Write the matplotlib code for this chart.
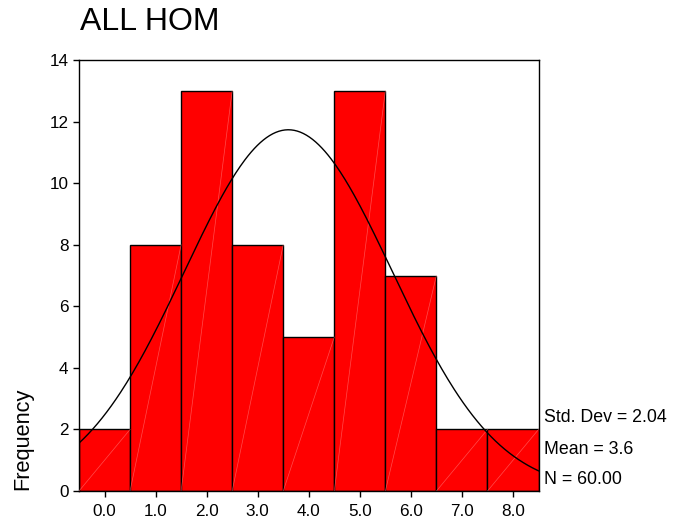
import numpy as np
import matplotlib.pyplot as plt

plt.rcParams['font.family'] = ['Liberation Sans', 'DejaVu Sans']

# histogram of ALL HOM
bins = [0, 1, 2, 3, 4, 5, 6, 7, 8]
counts = [2, 8, 13, 8, 5, 13, 7, 2, 2]
xlabels = ['0.0', '1.0', '2.0', '3.0', '4.0', '5.0', '6.0', '7.0', '8.0']
std_dev = 2.04
mean = 3.6
n = 60

fig = plt.figure(figsize=(6.73, 5.29), dpi=100)
ax = fig.add_axes([0.1174, 0.0718, 0.6828, 0.8148])

ax.bar(bins, counts, width=1.0, color='#ff0000', edgecolor='black', linewidth=1.0, zorder=2)
# faint diagonal streaks inside the bars
for b, c in zip(bins, counts):
    ax.plot([b - 0.5, b + 0.5], [0, c], color='#ff8080', linewidth=0.5, alpha=0.6, zorder=3)

# normal curve
xs = np.linspace(-0.5, 8.5, 300)
ys = n * 1.0 / (std_dev * np.sqrt(2 * np.pi)) * np.exp(-0.5 * ((xs - mean) / std_dev) ** 2)
ax.plot(xs, ys, color='black', linewidth=1.0, zorder=4)

ax.set_xlim(-0.5, 8.5)
ax.set_ylim(0, 14)
ax.set_xticks(bins)
ax.set_xticklabels(xlabels)
ax.set_yticks(range(0, 15, 2))
ax.tick_params(labelsize=12.3, direction='out', length=4, width=1, colors='black')
ax.tick_params(axis='x', pad=5)
for s in ax.spines.values():
    s.set_linewidth(1.0)

fig.text(0.119, 1 - 22 / 529, 'ALL HOM', fontsize=23, ha='left', va='center')
fig.text(0.034, 1 - 490 / 529, 'Frequency', rotation=90, fontsize=15.7, ha='center', va='bottom')

stats = ['Std. Dev = %.2f' % std_dev, 'Mean = %.1f' % mean, 'N = %.2f' % n]
ys_txt = [418, 449, 479]
for t, yp in zip(stats, ys_txt):
    fig.text(0.808, 1 - yp / 529, t, fontsize=12.8, ha='left', va='center')

fig.savefig('out.png', dpi=100)
